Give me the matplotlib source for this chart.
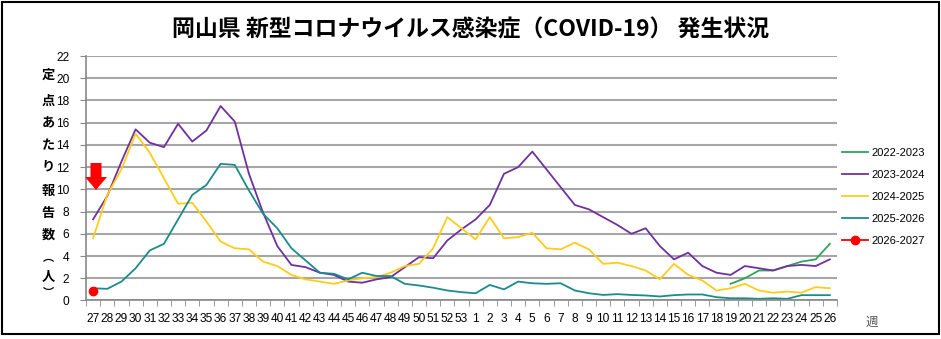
#!/usr/bin/env python3
"""
Okayama COVID-19 sentinel reports per week, by season.
"""

import matplotlib
matplotlib.use("Agg")
import matplotlib.pyplot as plt
from matplotlib.patches import Rectangle, Polygon

JP = ["Noto Sans CJK JP", "DejaVu Sans"]
NUM = ["Liberation Sans", "DejaVu Sans"]

weeks = [str(w) for w in range(27, 54)] + [str(w) for w in range(1, 27)]

# 2022-2023 only starts at week 19 (index 45)
s2022 = [None] * 45 + [1.5, 2.0, 2.7, 2.7, 3.1, 3.5, 3.7, 5.1]

s2023 = [7.3, 9.4, 12.5, 15.4, 14.2, 13.8, 15.9, 14.3, 15.3, 17.5, 16.1, 11.4,
         7.9, 4.9, 3.2, 3.0, 2.5, 2.3, 1.7, 1.6, 1.9, 2.1, 3.0, 3.9, 3.8,
         5.4, 6.4, 7.3, 8.6, 11.4, 12.0, 13.4, 11.8, 10.2, 8.6, 8.2, 7.5,
         6.8, 6.0, 6.5, 4.9, 3.7, 4.3, 3.1, 2.5, 2.3, 3.1, 2.9, 2.7, 3.1,
         3.2, 3.1, 3.7]

s2024 = [5.6, 9.5, 11.8, 15.0, 13.3, 11.0, 8.7, 8.8, 7.1, 5.3, 4.7, 4.6,
         3.5, 3.1, 2.3, 1.9, 1.7, 1.5, 1.8, 2.0, 2.1, 2.5, 3.1, 3.3, 4.7,
         7.5, 6.5, 5.5, 7.5, 5.6, 5.7, 6.1, 4.7, 4.6, 5.2, 4.6, 3.3, 3.4,
         3.1, 2.7, 1.9, 3.3, 2.3, 1.8, 0.9, 1.1, 1.5, 0.9, 0.7, 0.8, 0.7,
         1.2, 1.1]

s2025 = [1.1, 1.05, 1.7, 2.9, 4.5, 5.1, 7.3, 9.5, 10.4, 12.3, 12.2, 9.9,
         7.8, 6.5, 4.7, 3.6, 2.5, 2.4, 1.9, 2.5, 2.2, 2.2, 1.5, 1.35, 1.15,
         0.9, 0.75, 0.65, 1.4, 1.0, 1.7, 1.55, 1.5, 1.55, 0.9, 0.65, 0.5,
         0.57, 0.5, 0.45, 0.36, 0.48, 0.54, 0.54, 0.3, 0.2, 0.2, 0.15, 0.2,
         0.15, 0.48, 0.48, 0.48]

s2026 = [0.85]

seasons = ["2022-2023", "2023-2024", "2024-2025", "2025-2026", "2026-2027"]
colors = ["#2EA55C", "#7030A0", "#FFCC1A", "#1A8C8C", "#FF0000"]


def _series(values):
    xs = [i for i, v in enumerate(values) if v is not None]
    ys = [v for v in values if v is not None]
    return xs, ys


fig = plt.figure(figsize=(9.41, 3.39), dpi=100)
ax = fig.add_axes([0.0914, 0.1136, 0.798, 0.7212])

for name, values, color in zip(seasons[:4], [s2022, s2023, s2024, s2025], colors[:4]):
    xs, ys = _series(values)
    ax.plot(xs, ys, color=color, lw=1.3, label=name)

xs, ys = _series(s2026)
ax.plot(xs, ys, color=colors[4], lw=1.3, marker="o", markersize=6,
        label=seasons[4])

ax.set_xlim(-0.5, len(weeks) - 0.5)
ax.set_ylim(0, 22)
ax.set_yticks(range(0, 23, 2))
ax.set_xticks(range(len(weeks)))
ax.set_xticklabels(weeks, fontfamily=NUM, fontsize=8.6)
ax.set_xticks([i - 0.5 for i in range(len(weeks) + 1)], minor=True)
ax.tick_params(axis="x", which="major", length=0, pad=9)
ax.tick_params(axis="x", which="minor", length=4, color="#888888")
ax.tick_params(axis="y", length=4, color="#888888", pad=8)
for lab in ax.get_yticklabels():
    lab.set_fontfamily(NUM)
    lab.set_fontsize(8.6)

ax.grid(axis="y", color="#A6A6A6", lw=1.5)
ax.set_axisbelow(True)
for side in ("top", "right"):
    ax.spines[side].set_visible(False)
for side in ("left", "bottom"):
    ax.spines[side].set_color("#888888")
    ax.spines[side].set_linewidth(1.2)

leg = ax.legend(loc="upper left", bbox_to_anchor=(0.993, 0.665), frameon=False,
                prop={"family": NUM, "size": 8}, handlelength=2.4,
                handletextpad=0.25, labelspacing=1.08)

fig.text(0.5, 0.912, "岡山県 新型コロナウイルス感染症（COVID-19） 発生状況",
         ha="center", va="center", fontsize=16.5, fontweight="bold",
         family=JP)

# vertical y label, one char at a time
ylabel_chars = list("定点あたり報告数") + ["︵", "人", "︶"]
ylabel_px = [75, 100.7, 122.7, 145, 167, 190.7, 212.7, 235, 258, 276, 293]
ylabel_size = [9.5] * 8 + [8, 9.5, 8]
for ch, py, fs in zip(ylabel_chars, ylabel_px, ylabel_size):
    fig.text(48 / 941, 1 - py / 339, ch, ha="center", va="center",
             fontsize=fs, fontweight="bold", family=JP)

fig.text(872 / 941, 1 - 322 / 339, "週", ha="center", va="center",
         fontsize=9, color="#555555", family=JP)

# red down arrow
arrow_px = [(90.5, 163), (101.5, 163), (101.5, 177), (107, 177),
            (96, 190), (85, 177), (90.5, 177)]
fig.patches.append(Polygon([(x / 941, 1 - y / 339) for x, y in arrow_px],
                           closed=True, transform=fig.transFigure,
                           facecolor="#FF0000", edgecolor="none"))

# outer frame
fig.patches.append(Rectangle((2 / 941, 5 / 339), 937 / 941, 332 / 339,
                             transform=fig.transFigure, fill=False,
                             edgecolor="black", lw=1.5))

fig.savefig("out.png", dpi=100)
